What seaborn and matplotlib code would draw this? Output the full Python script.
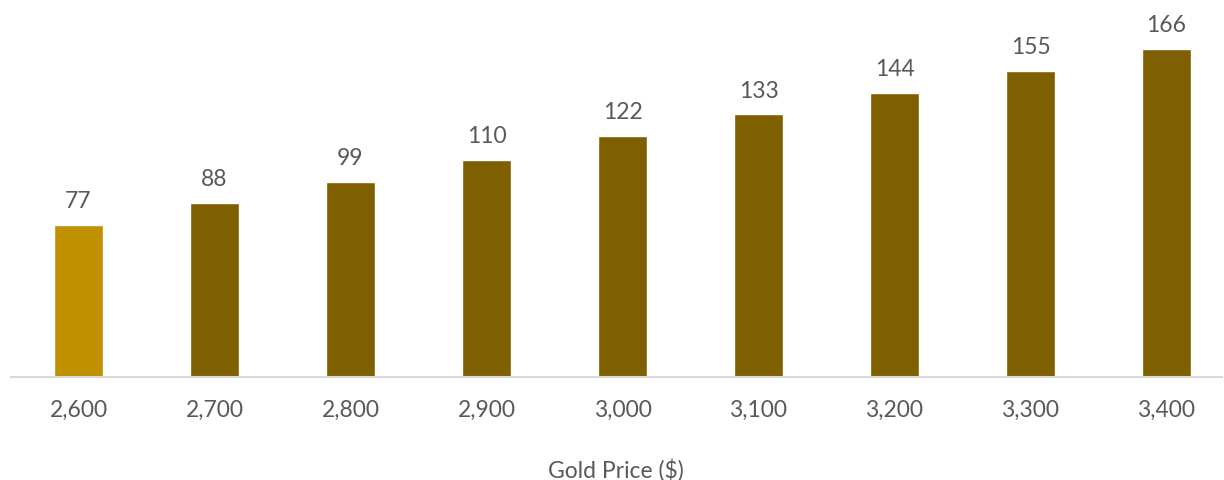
import pandas as pd
import matplotlib.pyplot as plt
import seaborn as sns

sns.set_style('white')
plt.rcParams['font.family'] = ['Lato', 'DejaVu Sans']

prices = ['2,600', '2,700', '2,800', '2,900', '3,000', '3,100', '3,200', '3,300', '3,400']
values = [77, 88, 99, 110, 122, 133, 144, 155, 166]

bar_colors = ['#BF9000'] + ['#7F6000'] * (len(prices) - 1)
text_color = '#595959'

df = pd.DataFrame({'price': prices, 'value': values})

fig = plt.figure(figsize=(12.24, 4.81), dpi=100)
ax = fig.add_axes([10.5 / 1224, 103 / 481, 1211 / 1224, 368 / 481])

sns.barplot(data=df, x='price', y='value', hue='price', palette=bar_colors,
            legend=False, width=0.36, saturation=1, ax=ax)

for i, v in enumerate(values):
    ax.annotate(str(v), (i, v), xytext=(0, 10), textcoords='offset points',
                ha='center', va='bottom', fontsize=16.5, color=text_color)

ax.set_xlim(-0.5, -0.5 + 1211 / 136)
ax.set_ylim(0, 186.4)
ax.set_yticks([])
ax.set_ylabel('')
ax.set_xlabel('Gold Price ($)', fontsize=16.5, color=text_color, labelpad=27)
ax.tick_params(axis='x', length=0, labelsize=16.5, labelcolor=text_color, pad=16)

for side in ['top', 'right', 'left']:
    ax.spines[side].set_visible(False)
ax.spines['bottom'].set_color('#D9D9D9')
ax.spines['bottom'].set_linewidth(1.5)

fig.savefig('out.png', dpi=100)
